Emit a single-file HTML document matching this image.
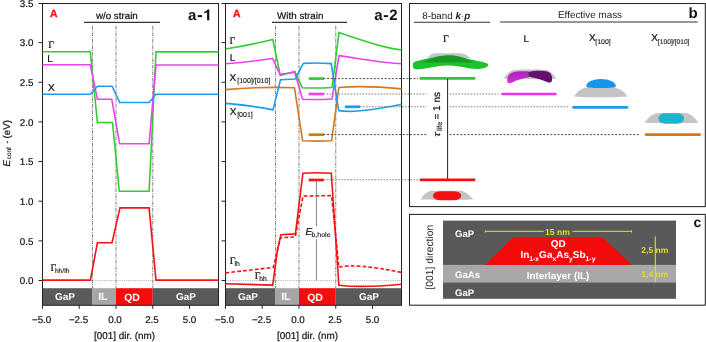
<!DOCTYPE html><html><head><meta charset="utf-8"><style>html,body{margin:0;padding:0;background:#fff;overflow:hidden}svg{display:block;will-change:transform}text[fill="#111"]:not([font-weight]){stroke:#111;stroke-width:0.2px}tspan[font-size]{stroke-width:0.12px}</style></head><body>
<svg width="706" height="342" viewBox="0 0 706 342" font-family="Liberation Sans, sans-serif" text-rendering="geometricPrecision">
<rect width="706" height="342" fill="#fff"/>
<rect x="42.5" y="288.2" width="49.98" height="16.8" fill="#5a5a5a"/>
<rect x="92.48" y="288.2" width="23.52" height="16.8" fill="#a6a6a6"/>
<rect x="116.00" y="288.2" width="36.75" height="16.8" fill="#f60c0c"/>
<rect x="152.75" y="288.2" width="65.75" height="16.8" fill="#5a5a5a"/>
<text x="65.0" y="300.3" font-size="10" font-weight="bold" fill="#fff" text-anchor="middle">GaP</text>
<text x="102.8" y="300.4" font-size="10.5" font-weight="bold" fill="#fff" text-anchor="middle">IL</text>
<text x="132.0" y="300.6" font-size="10.5" font-weight="bold" fill="#fff" text-anchor="middle">QD</text>
<text x="186.0" y="300.3" font-size="10" font-weight="bold" fill="#fff" text-anchor="middle">GaP</text>
<line x1="92.48" y1="26" x2="92.48" y2="288.2" stroke="#7c7c7c" stroke-width="0.95" stroke-dasharray="3.5 1 1 1"/>
<line x1="116.00" y1="26" x2="116.00" y2="288.2" stroke="#7c7c7c" stroke-width="0.95" stroke-dasharray="3.5 1 1 1"/>
<line x1="152.75" y1="26" x2="152.75" y2="288.2" stroke="#7c7c7c" stroke-width="0.95" stroke-dasharray="3.5 1 1 1"/>
<line x1="42.5" y1="280.50" x2="218.5" y2="280.50" stroke="#999" stroke-width="0.8" stroke-dasharray="1 1.2"/>
<rect x="42.5" y="3.5" width="176.0" height="301.8" fill="none" stroke="#242424" stroke-width="1.05"/>
<line x1="38.5" y1="280.50" x2="42.5" y2="280.50" stroke="#242424" stroke-width="1"/>
<line x1="38.5" y1="240.85" x2="42.5" y2="240.85" stroke="#242424" stroke-width="1"/>
<line x1="38.5" y1="201.20" x2="42.5" y2="201.20" stroke="#242424" stroke-width="1"/>
<line x1="38.5" y1="161.55" x2="42.5" y2="161.55" stroke="#242424" stroke-width="1"/>
<line x1="38.5" y1="121.90" x2="42.5" y2="121.90" stroke="#242424" stroke-width="1"/>
<line x1="38.5" y1="82.25" x2="42.5" y2="82.25" stroke="#242424" stroke-width="1"/>
<line x1="38.5" y1="42.60" x2="42.5" y2="42.60" stroke="#242424" stroke-width="1"/>
<line x1="38.5" y1="3.50" x2="42.5" y2="3.50" stroke="#242424" stroke-width="1"/>
<line x1="42.50" y1="305" x2="42.50" y2="308.8" stroke="#242424" stroke-width="1"/>
<text x="41.60" y="323" font-size="9.8" fill="#111" text-anchor="middle">−5.0</text>
<line x1="79.25" y1="305" x2="79.25" y2="308.8" stroke="#242424" stroke-width="1"/>
<text x="78.55" y="323" font-size="9.8" fill="#111" text-anchor="middle">−2.5</text>
<line x1="116.00" y1="305" x2="116.00" y2="308.8" stroke="#242424" stroke-width="1"/>
<text x="115.00" y="323" font-size="9.8" fill="#111" text-anchor="middle">0.0</text>
<line x1="152.75" y1="305" x2="152.75" y2="308.8" stroke="#242424" stroke-width="1"/>
<text x="151.95" y="323" font-size="9.8" fill="#111" text-anchor="middle">2.5</text>
<line x1="189.50" y1="305" x2="189.50" y2="308.8" stroke="#242424" stroke-width="1"/>
<text x="189.50" y="323" font-size="9.8" fill="#111" text-anchor="middle">5.0</text>
<text x="124.5" y="339.3" font-size="9.9" fill="#111" text-anchor="middle">[001] dir. (nm)</text>
<text x="95.9" y="19.1" font-size="9.8" fill="#111">w/o strain</text>
<line x1="84" y1="22.4" x2="160" y2="22.4" stroke="#333" stroke-width="1.1"/>
<text x="50.1" y="16.5" font-size="10.4" font-weight="bold" fill="#fa0a0a" stroke="#fa0a0a" stroke-width="0.3">A</text>
<text x="188" y="20.3" font-size="15" font-weight="bold" fill="#111">a</text>
<rect x="197.7" y="15.1" width="4.3" height="2" fill="#111"/>
<path d="M207.1,20.3 L209.3,20.3 L209.3,9.5 L207.6,9.5 C207,10.8 205.7,11.5 204.2,11.7 L204.2,13.3 C205.3,13.2 206.4,12.8 207.1,12.2 Z" fill="#111"/>
<text x="33.4" y="284.20" font-size="9.8" fill="#111" text-anchor="end">0.0</text>
<text x="33.4" y="244.55" font-size="9.8" fill="#111" text-anchor="end">0.5</text>
<text x="33.4" y="204.90" font-size="9.8" fill="#111" text-anchor="end">1.0</text>
<text x="33.4" y="165.25" font-size="9.8" fill="#111" text-anchor="end">1.5</text>
<text x="33.4" y="125.60" font-size="9.8" fill="#111" text-anchor="end">2.0</text>
<text x="33.4" y="85.95" font-size="9.8" fill="#111" text-anchor="end">2.5</text>
<text x="33.4" y="46.30" font-size="9.8" fill="#111" text-anchor="end">3.0</text>
<text x="33.4" y="6.65" font-size="9.8" fill="#111" text-anchor="end">3.5</text>
<text transform="translate(9.5,166.6) rotate(-90)" font-size="9.8" fill="#111"><tspan font-style="italic">E</tspan><tspan font-size="6.4" dx="0.8" dy="1.6">conf</tspan><tspan dx="8.6" dy="-1.6">(eV)</tspan></text>
<path d="M6.4,141.3 L7.8,141.3 L8.2,143.2 L7.4,143.2 Z" fill="#333"/>
<path d="M42.50,51.70 L90.30,51.70 L97.40,122.50 L112.50,122.50 L119.30,191.30 L149.10,191.30 L156.00,51.90 L218.50,51.90" fill="none" stroke="#33cc33" stroke-width="1.6" stroke-linejoin="miter" />
<path d="M42.50,64.80 L90.30,64.80 L97.50,99.30 L111.80,99.30 L119.60,143.70 L149.10,143.70 L156.00,65.00 L218.50,65.00" fill="none" stroke="#ec42ee" stroke-width="1.6" stroke-linejoin="miter" />
<path d="M42.50,94.20 L90.30,94.20 L97.50,86.20 L112.10,86.20 L119.70,102.50 L149.20,102.50 L156.00,94.20 L218.50,94.20" fill="none" stroke="#1c9cf0" stroke-width="1.6" stroke-linejoin="miter" />
<path d="M42.50,280.10 L90.40,280.10 L97.40,242.80 L112.00,242.80 L120.00,207.90 L149.10,207.90 L156.00,280.10 L218.50,280.10" fill="none" stroke="#f81212" stroke-width="1.6" stroke-linejoin="miter" />
<text x="48.3" y="47.6" font-size="10" font-family="Liberation Serif, serif" fill="#111">&#915;</text>
<text x="47.3" y="62.1" font-size="10" fill="#111">L</text>
<text x="48.1" y="90.9" font-size="10" fill="#111">X</text>
<text x="50.5" y="271.3" font-size="10" font-family="Liberation Serif, serif" fill="#111">&#915;<tspan font-size="6.7" font-family="Liberation Sans, sans-serif" dx="-1.4" dy="2.1">hh/lh</tspan></text>
<rect x="225.5" y="288.2" width="49.98" height="16.8" fill="#5a5a5a"/>
<rect x="275.48" y="288.2" width="23.52" height="16.8" fill="#a6a6a6"/>
<rect x="299.00" y="288.2" width="36.75" height="16.8" fill="#f60c0c"/>
<rect x="335.75" y="288.2" width="65.75" height="16.8" fill="#5a5a5a"/>
<text x="248.0" y="300.3" font-size="10" font-weight="bold" fill="#fff" text-anchor="middle">GaP</text>
<text x="285.8" y="300.4" font-size="10.5" font-weight="bold" fill="#fff" text-anchor="middle">IL</text>
<text x="315.0" y="300.6" font-size="10.5" font-weight="bold" fill="#fff" text-anchor="middle">QD</text>
<text x="369.0" y="300.3" font-size="10" font-weight="bold" fill="#fff" text-anchor="middle">GaP</text>
<line x1="275.48" y1="26" x2="275.48" y2="288.2" stroke="#7c7c7c" stroke-width="0.95" stroke-dasharray="3.5 1 1 1"/>
<line x1="299.00" y1="26" x2="299.00" y2="288.2" stroke="#7c7c7c" stroke-width="0.95" stroke-dasharray="3.5 1 1 1"/>
<line x1="335.75" y1="26" x2="335.75" y2="288.2" stroke="#7c7c7c" stroke-width="0.95" stroke-dasharray="3.5 1 1 1"/>
<line x1="225.5" y1="280.50" x2="401.5" y2="280.50" stroke="#999" stroke-width="0.8" stroke-dasharray="1 1.2"/>
<rect x="225.5" y="3.5" width="176.0" height="301.8" fill="none" stroke="#242424" stroke-width="1.05"/>
<line x1="221.5" y1="280.50" x2="225.5" y2="280.50" stroke="#242424" stroke-width="1"/>
<line x1="221.5" y1="240.85" x2="225.5" y2="240.85" stroke="#242424" stroke-width="1"/>
<line x1="221.5" y1="201.20" x2="225.5" y2="201.20" stroke="#242424" stroke-width="1"/>
<line x1="221.5" y1="161.55" x2="225.5" y2="161.55" stroke="#242424" stroke-width="1"/>
<line x1="221.5" y1="121.90" x2="225.5" y2="121.90" stroke="#242424" stroke-width="1"/>
<line x1="221.5" y1="82.25" x2="225.5" y2="82.25" stroke="#242424" stroke-width="1"/>
<line x1="221.5" y1="42.60" x2="225.5" y2="42.60" stroke="#242424" stroke-width="1"/>
<line x1="221.5" y1="3.50" x2="225.5" y2="3.50" stroke="#242424" stroke-width="1"/>
<line x1="225.50" y1="305" x2="225.50" y2="308.8" stroke="#242424" stroke-width="1"/>
<text x="224.60" y="323" font-size="9.8" fill="#111" text-anchor="middle">−5.0</text>
<line x1="262.25" y1="305" x2="262.25" y2="308.8" stroke="#242424" stroke-width="1"/>
<text x="261.55" y="323" font-size="9.8" fill="#111" text-anchor="middle">−2.5</text>
<line x1="299.00" y1="305" x2="299.00" y2="308.8" stroke="#242424" stroke-width="1"/>
<text x="298.00" y="323" font-size="9.8" fill="#111" text-anchor="middle">0.0</text>
<line x1="335.75" y1="305" x2="335.75" y2="308.8" stroke="#242424" stroke-width="1"/>
<text x="334.95" y="323" font-size="9.8" fill="#111" text-anchor="middle">2.5</text>
<line x1="372.50" y1="305" x2="372.50" y2="308.8" stroke="#242424" stroke-width="1"/>
<text x="372.50" y="323" font-size="9.8" fill="#111" text-anchor="middle">5.0</text>
<text x="307.5" y="339.3" font-size="9.9" fill="#111" text-anchor="middle">[001] dir. (nm)</text>
<text x="277.1" y="19.1" font-size="9.8" fill="#111">With strain</text>
<line x1="272" y1="22.4" x2="347" y2="22.4" stroke="#333" stroke-width="1.1"/>
<text x="233.1" y="16.5" font-size="10.4" font-weight="bold" fill="#fa0a0a" stroke="#fa0a0a" stroke-width="0.3">A</text>
<text x="374.3" y="20.3" font-size="15" font-weight="bold" fill="#111">a</text>
<rect x="383.8" y="15.2" width="4.3" height="1.9" fill="#111"/>
<text x="397.7" y="20.3" font-size="15" font-weight="bold" fill="#111" text-anchor="end">2</text>
<path d="M225.5,49 Q252,44.6 272.8,39.5 L280.3,75.5 L294.8,71.4 L302.2,87.7 Q317,88.5 332,87.5 L339,32.4 C360,39.8 385,48.6 401.5,49.8" fill="none" stroke="#33cc33" stroke-width="1.6" />
<path d="M225.5,63.7 Q250,62 272.5,58.5 L279.9,74.3 L294.8,72.3 L302.6,99.2 Q317,100 332,99 L339,55.6 C360,58.6 385,63.2 401.5,63.7" fill="none" stroke="#ec42ee" stroke-width="1.6" />
<path d="M225.5,89.6 Q260,86.5 294.5,87.8 L302.6,140.8 Q317,141.5 331.6,140.8 L338.9,87.5 Q365,85.3 401.5,88.9" fill="none" stroke="#d5771a" stroke-width="1.6" />
<path d="M225.5,103.4 Q255,106 273,109.9 L280.5,79.8 L295.1,79 L303.3,63.4 Q317,62.5 331.2,63.6 L338.7,110.6 Q358,113.6 401.5,104.3" fill="none" stroke="#1c9cf0" stroke-width="1.6" />
<path d="M225.5,283.8 L272.7,285.1 L277.5,250 L280.9,234.7 L295.4,233.9 L302.9,173.2 Q317,172.3 331.3,173.2 L338.9,285.2 Q362,288 401.5,284.2" fill="none" stroke="#f81212" stroke-width="1.6" />
<path d="M225.5,272.9 L273.3,267.4 L280.5,237.7 L295.2,237 L303,196.1 L331.6,195.6 L338.9,267.2 Q355,263 401.5,272.4" fill="none" stroke="#f81212" stroke-width="1.6" stroke-dasharray="3.8 2.1"/>
<line x1="308.7" y1="78.6" x2="323.9" y2="78.6" stroke="#33cc33" stroke-width="2.7" stroke-linecap="butt"/>
<line x1="308.7" y1="94" x2="323.9" y2="94" stroke="#ec42ee" stroke-width="2.7" stroke-linecap="butt"/>
<line x1="308.7" y1="134.7" x2="323.9" y2="134.7" stroke="#d5771a" stroke-width="2.7" stroke-linecap="butt"/>
<line x1="344.9" y1="106.8" x2="360" y2="106.8" stroke="#1c9cf0" stroke-width="2.7" stroke-linecap="butt"/>
<line x1="308.7" y1="180" x2="323.9" y2="180" stroke="#f81212" stroke-width="2.7" stroke-linecap="butt"/>
<line x1="316.4" y1="180" x2="316.4" y2="226.3" stroke="#777" stroke-width="0.9"/>
<line x1="316.4" y1="238.9" x2="316.4" y2="280.4" stroke="#777" stroke-width="0.9"/>
<rect x="305" y="226" width="26" height="12" fill="#fff" opacity="0.0"/>
<text x="305.4" y="234.8" font-size="10" fill="#111"><tspan font-style="italic">E</tspan><tspan font-size="7" dx="-0.6" dy="2.5">b,hole</tspan></text>
<text x="229.6" y="44.2" font-size="10" font-family="Liberation Serif, serif" fill="#111">&#915;</text>
<text x="229.7" y="60.8" font-size="10" fill="#111">L</text>
<text x="229.6" y="81.2" font-size="10" fill="#111">X<tspan font-size="7" dx="1" dy="1.9">[100]/[010]</tspan></text>
<text x="229.8" y="114.9" font-size="10" fill="#111">X<tspan font-size="7" dx="0.7" dy="1.8">[001]</tspan></text>
<text x="229.7" y="263.5" font-size="10" font-family="Liberation Serif, serif" fill="#111">&#915;<tspan font-size="6.8" font-family="Liberation Sans, sans-serif" dx="-0.9" dy="2.6">lh</tspan></text>
<text x="254.7" y="279.3" font-size="10" font-family="Liberation Serif, serif" fill="#111">&#915;<tspan font-size="6.8" font-family="Liberation Sans, sans-serif" dx="-1.2" dy="2.1">hh</tspan></text>
<line x1="323.5" y1="78.6" x2="418" y2="78.6" stroke="#333" stroke-width="0.9" stroke-dasharray="2 1.6"/>
<line x1="323.5" y1="94" x2="426.5" y2="94" stroke="#808080" stroke-width="1.1" stroke-dasharray="1.6 1.4"/>
<line x1="449.5" y1="94" x2="498.5" y2="94" stroke="#808080" stroke-width="1.1" stroke-dasharray="1.6 1.4"/>
<line x1="360" y1="106.8" x2="426.5" y2="106.8" stroke="#808080" stroke-width="1.1" stroke-dasharray="1.6 1.4"/>
<line x1="449.5" y1="106.8" x2="568" y2="106.8" stroke="#808080" stroke-width="1.1" stroke-dasharray="1.6 1.4"/>
<line x1="323.5" y1="134.6" x2="426.5" y2="134.6" stroke="#333" stroke-width="0.9" stroke-dasharray="2 1.6"/>
<line x1="449.5" y1="134.6" x2="639.6" y2="134.6" stroke="#333" stroke-width="0.9" stroke-dasharray="2 1.6"/>
<line x1="323.5" y1="179.8" x2="418" y2="179.8" stroke="#808080" stroke-width="1.1" stroke-dasharray="1.6 1.4"/>
<rect x="409.5" y="3.5" width="295.8" height="203.1" fill="none" stroke="#242424" stroke-width="1.05"/>
<text x="422.2" y="18.5" font-size="9.8" fill="#1c1c1c">8-band <tspan font-weight="bold" font-style="italic">k</tspan>&#183;<tspan font-weight="bold" font-style="italic">p</tspan></text>
<line x1="414" y1="22.2" x2="490" y2="22.2" stroke="#333" stroke-width="1.1"/>
<text x="558" y="18.4" font-size="9.9" fill="#1c1c1c">Effective mass</text>
<line x1="500.2" y1="22" x2="697.7" y2="22" stroke="#333" stroke-width="1.1"/>
<text x="697.6" y="18.4" font-size="15" font-weight="bold" fill="#111" text-anchor="end">b</text>
<text x="442.9" y="41.7" font-size="10" font-family="Liberation Serif, serif" fill="#111">&#915;</text>
<text x="523.6" y="41.9" font-size="10" fill="#111">L</text>
<text x="588.9" y="41.2" font-size="10" fill="#111">X<tspan font-size="6.9" dx="-0.2" dy="2.7">[100]</tspan></text>
<text x="651.2" y="40.9" font-size="10" fill="#111">X<tspan font-size="6.7" dx="0" dy="3.4">[100]/[010]</tspan></text>
<path d="M426.8,58.6 C429,56 431,53.5 435.5,53.3 L460.5,53.3 C465,53.5 468,56 471,58.6 Z" fill="#c4c4c4"/>
<path d="M412.9,63.4 C413.2,62.2 415,61.5 418,60.7 C424,59.3 428,58.3 432,57.8 C440,55 456,54.6 463,57.5 C470,60 482,61 487.5,63.5 C490,65.5 486,68.8 478,69 C468,69.3 462,66 448,65.6 C435,65.8 428,69 418,69.2 C414.5,69.2 413,68.6 412.9,67.2 Z" fill="#20c22c"/>
<path d="M421.2,62.5 C428,60.5 434,56 448,55.2 C462,55.6 468,60.5 475.4,62.5 Z" fill="#179a25"/>
<line x1="420.8" y1="78.4" x2="474.2" y2="78.4" stroke="#2ec635" stroke-width="2.7" stroke-linecap="round"/>
<line x1="447.6" y1="79" x2="447.6" y2="179" stroke="#222" stroke-width="1"/>
<text transform="translate(440.3,136.8) rotate(-90) scale(1.3,1)" font-size="9" font-style="italic" fill="#111">&#964;</text>
<text transform="translate(440.3,130.9) rotate(-90)" font-size="10" fill="#111"><tspan font-size="7.3" dy="2.1">life</tspan><tspan dx="2" dy="-2.1">= 1 ns</tspan></text>
<line x1="420.8" y1="179.8" x2="474.2" y2="179.8" stroke="#f41010" stroke-width="2.8" stroke-linecap="round"/>
<path d="M420.5,199.6 C423,196 426,191.5 431,190.8 L461,190.8 C466,191.5 470,196 473.4,199.6 C460,200.2 434,200.2 420.5,199.6 Z" fill="#c4c4c4"/>
<rect x="432.9" y="191.3" width="28.4" height="9" rx="8" ry="4.5" fill="#f41010"/>
<path d="M503.8,78.4 C506,75 509,71 514,69.9 C520,69.3 540,69.3 546,69.9 C551,71 554,75 556.5,78.4 C550,79.4 510,79.4 503.8,78.4 Z" fill="#c6c6c6"/>
<defs><linearGradient id="lg1" x1="0" y1="0" x2="0" y2="1"><stop offset="0" stop-color="#a926b8"/><stop offset="0.55" stop-color="#c02ac8"/><stop offset="1" stop-color="#e42ae8"/></linearGradient></defs>
<path d="M507.3,81.3 C506.8,77 509,73.5 513,72.2 C517,71.2 524,71 529,71.6 C529.5,73.5 529.3,75.5 529,77.2 C524,78 519,79.5 515,81 C512,82.6 510,83.6 508.6,83.2 C507.7,82.8 507.3,82.2 507.3,81.3 Z" fill="url(#lg1)"/>
<path d="M528.6,72 C531,71 536,70.6 541,70.7 C545,70.8 548.5,71.3 550,73 C552,75 552.6,78.5 551.8,81 C551,82.8 549.5,83 547,82 C543,80.5 538,78.6 533,77.6 C531,77.2 529.5,77 528.8,76.8 C528.6,75 528.5,73.5 528.6,72 Z" fill="#64106c"/>
<line x1="502.4" y1="94" x2="555.4" y2="94" stroke="#ee33ee" stroke-width="2.6" stroke-linecap="round"/>
<path d="M574.2,96.6 C576,93 580,88.5 586,87.8 L614,87.8 C621,88.5 625,93 627.5,96.6 C620,97.6 582,97.6 574.2,96.6 Z" fill="#c4c4c4"/>
<path d="M586.3,86.3 C586.3,82 593,79.1 601,79.1 C609,79.1 615.8,82 615.8,86.3 C615.8,87.8 612,88 601,88 C590,88 586.3,87.8 586.3,86.3 Z" fill="#1596ee"/>
<line x1="573.5" y1="107.3" x2="627.1" y2="107.3" stroke="#1c9cf0" stroke-width="2.7" stroke-linecap="round"/>
<path d="M644.5,122.7 C648,118 652,113.5 659,113 L685,113 C691,113.5 695,118 698.4,122.7 C685,123.3 657,123.3 644.5,122.7 Z" fill="#c4c4c4"/>
<rect x="658.4" y="113.3" width="25.6" height="10.4" rx="7" ry="5" fill="#1bb4cc"/>
<line x1="646" y1="134.6" x2="699.6" y2="134.6" stroke="#d5771a" stroke-width="2.7" stroke-linecap="round"/>
<rect x="409.5" y="214.4" width="295.8" height="90.8" fill="none" stroke="#242424" stroke-width="1.05"/>
<rect x="443" y="220.6" width="233" height="78.2" fill="#595959"/>
<rect x="443" y="264.9" width="233" height="17.7" fill="#a8a8a8"/>
<path d="M485,264.9 L513.5,237.2 L602.5,237.2 L631.6,264.9 Z" fill="#f20c0c"/>
<text transform="translate(432.9,257.2) rotate(-90)" font-size="10.3" fill="#1c1c1c" text-anchor="middle">[001] direction</text>
<text x="455" y="236.6" font-size="9.5" font-weight="bold" fill="#fff">GaP</text>
<text x="455" y="278.4" font-size="9.6" font-weight="bold" fill="#fff">GaAs</text>
<text x="455" y="295.6" font-size="9.5" font-weight="bold" fill="#fff">GaP</text>
<text x="558" y="278.6" font-size="9.9" font-weight="bold" fill="#fff" text-anchor="middle">Interlayer (IL)</text>
<text x="558.3" y="246.8" font-size="10" font-weight="bold" fill="#fff" text-anchor="middle">QD</text>
<text x="520.4" y="257.7" font-size="10" font-weight="bold" fill="#fff">In<tspan font-size="6.8" dy="3.3">1-x</tspan><tspan dy="-3.3">Ga</tspan><tspan font-size="6.8" dy="3.3">x</tspan><tspan dy="-3.3">As</tspan><tspan font-size="6.8" dy="3.3">y</tspan><tspan dy="-3.3">Sb</tspan><tspan font-size="6.8" dy="3.3">1-y</tspan></text>
<line x1="485" y1="231.4" x2="543.8" y2="231.4" stroke="#caca26" stroke-width="1.1"/>
<line x1="572.6" y1="231.4" x2="631.9" y2="231.4" stroke="#caca26" stroke-width="1.1"/>
<line x1="485.3" y1="230" x2="485.3" y2="232.8" stroke="#caca26" stroke-width="0.8"/>
<line x1="631.6" y1="230" x2="631.6" y2="232.8" stroke="#caca26" stroke-width="0.8"/>
<text x="557.5" y="234.9" font-size="8.6" font-weight="bold" fill="#dede22" text-anchor="middle">15 nm</text>
<line x1="655.3" y1="236.4" x2="655.3" y2="282.2" stroke="#dede22" stroke-width="1.1"/>
<text x="654.8" y="253" font-size="8.5" font-weight="bold" fill="#dede22" text-anchor="middle">2,5 nm</text>
<text x="654.8" y="277" font-size="8.5" font-weight="bold" fill="#dede22" text-anchor="middle">1,4 nm</text>
<text x="701.2" y="227.2" font-size="14" font-weight="bold" fill="#111" text-anchor="end">c</text>
</svg></body></html>
